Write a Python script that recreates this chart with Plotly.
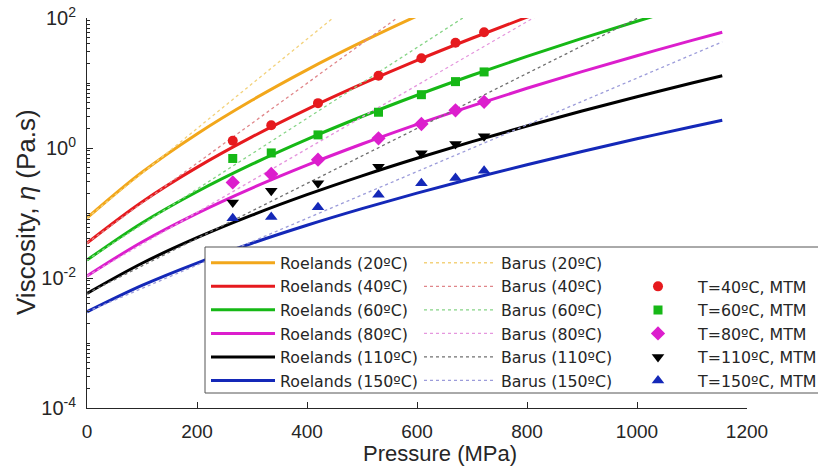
import plotly.graph_objects as go

# ---------------- data ----------------
pressure = [0, 100, 200, 300, 400, 500, 600, 700, 800, 900, 1000, 1100, 1155]

roelands_20 = [0.0838, 0.4231, 1.647, 5.433, 15.96, 42.85, 107.4, 254.1]
roelands_40 = [0.0345, 0.1479, 0.504, 1.483, 3.936, 9.656, 22.32, 48.83, 102.8, 208.3]
roelands_60 = [0.01892, 0.0704, 0.2127, 0.5634, 1.359, 3.051, 6.484, 13.15, 25.69, 48.56, 89.23, 160.0]
roelands_80 = [0.01074, 0.0358, 0.09893, 0.2424, 0.5461, 1.153, 2.315, 4.458, 8.288, 14.96, 26.31, 45.24, 60.42]
roelands_110 = [0.00578, 0.01686, 0.04169, 0.09277, 0.1915, 0.3735, 0.6965, 1.251, 2.180, 3.700, 6.134, 9.972, 12.93]
roelands_150 = [0.00302, 0.007686, 0.01698, 0.03426, 0.06479, 0.1167, 0.2021, 0.339, 0.5538, 0.884, 1.384, 2.128, 2.678]

barus_pressure = [0, 1155]
barus_20 = [0.0838, 7.40e6]
barus_40 = [0.0345, 4.30e5]
barus_60 = [0.01892, 3.72e4]
barus_80 = [0.01074, 4786]
barus_110 = [0.00578, 445.7]
barus_150 = [0.00302, 42.96]

mtm_pressure = [265, 335, 420, 530, 608, 670, 722]
mtm_40 = [1.29, 2.24, 4.90, 12.9, 24.0, 41.7, 60.3]
mtm_60 = [0.69, 0.84, 1.59, 3.55, 6.61, 10.5, 14.8]
mtm_80 = [0.295, 0.398, 0.661, 1.41, 2.34, 3.80, 5.13]
mtm_110 = [0.145, 0.219, 0.288, 0.513, 0.832, 1.148, 1.514]
mtm_150 = [0.0832, 0.0871, 0.123, 0.191, 0.288, 0.347, 0.447]

temps = ["20", "40", "60", "80", "110", "150"]
x_ticks = [0, 200, 400, 600, 800, 1000, 1200]
y_ticks = [1e-4, 1e-2, 1, 1e2]
y_ticktext = ["10<sup>-4</sup>", "10<sup>-2</sup>", "10<sup>0</sup>", "10<sup>2</sup>"]

# ---------------- styles ----------------
solid_colors = ["#F2A71B", "#E61A1E", "#16B816", "#DC1ECD", "#000000", "#1428B8"]
dash_colors = ["#F3D27C", "#E0868A", "#86D486", "#E597DE", "#707070", "#9C9CDA"]
FONT = "Liberation Sans, Arial, Helvetica, sans-serif"
LEG_FONT = "DejaVu Sans, Liberation Sans, Arial, sans-serif"
TXT = "#262626"

roelands = [roelands_20, roelands_40, roelands_60, roelands_80, roelands_110, roelands_150]
barus = [barus_20, barus_40, barus_60, barus_80, barus_110, barus_150]

fig = go.Figure()

for t, vals, col in zip(temps, roelands, solid_colors):
    fig.add_trace(go.Scatter(
        x=pressure[:len(vals)], y=vals, mode="lines",
        line=dict(color=col, width=3, shape="spline", smoothing=1.0),
        name=f"Roelands ({t}ºC)", legend="legend"))

for t, vals, col in zip(temps, barus, dash_colors):
    fig.add_trace(go.Scatter(
        x=barus_pressure, y=vals, mode="lines",
        line=dict(color=col, width=1.3, dash="3px,3px"),
        name=f"Barus ({t}ºC)", legend="legend2"))

mtm = [
    ("40", mtm_40, "circle", solid_colors[1], 10),
    ("60", mtm_60, "square", solid_colors[2], 9),
    ("80", mtm_80, "diamond", solid_colors[3], 11),
    ("110", mtm_110, "triangle-down", solid_colors[4], 11),
    ("150", mtm_150, "triangle-up", solid_colors[5], 11),
]
for t, vals, sym, col, sz in mtm:
    fig.add_trace(go.Scatter(
        x=mtm_pressure, y=vals, mode="markers",
        marker=dict(symbol=sym, color=col, size=sz, line=dict(width=0)),
        name=f"T={t}ºC, MTM", legend="legend3"))

# ---------------- layout ----------------
L, R, T, B = 87, 71, 18, 58
W, H = 818, 466
pw, ph = W - L - R, H - T - B


def px_x(p):
    return (p - L) / pw


def px_y(p):
    return (H - B - p) / ph


minor_vals = []
for d in range(-4, 2):
    for k in range(1, 10):
        v = k * 10.0 ** d
        if v not in y_ticks:
            minor_vals.append(v)

legend_common = dict(
    xanchor="left", yanchor="top", bgcolor="rgba(0,0,0,0)", borderwidth=0,
    font=dict(family=LEG_FONT, size=15.8, color=TXT), tracegroupgap=0,
)
row = 23.6
leg_top = 246

fig.update_layout(
    width=W, height=H,
    margin=dict(l=L, r=R, t=T, b=B, pad=0, autoexpand=False),
    paper_bgcolor="white", plot_bgcolor="white",
    font=dict(family=FONT, color=TXT),
    showlegend=True,
    legend=dict(x=px_x(206), y=px_y(leg_top), itemwidth=64, **legend_common),
    legend2=dict(x=px_x(419), y=px_y(leg_top), itemwidth=72, **legend_common),
    legend3=dict(x=px_x(618), y=px_y(leg_top + row), itemwidth=70, **legend_common),
    xaxis=dict(
        range=[0, 1200], tickvals=x_ticks, ticks="inside", ticklen=6,
        tickcolor=TXT, showline=True, linecolor=TXT, linewidth=1,
        showgrid=False, zeroline=False, tickfont=dict(size=19, color=TXT),
        ticklabelstandoff=6,
    ),
    yaxis=dict(
        type="log", range=[-4, 2], tickvals=y_ticks, ticktext=y_ticktext,
        ticks="inside", ticklen=6, tickcolor=TXT, showline=True, linecolor=TXT,
        linewidth=1, showgrid=False, zeroline=False,
        tickfont=dict(size=20, color=TXT), ticklabelstandoff=6,
        minor=dict(tickvals=minor_vals, ticks="inside", ticklen=3, tickcolor=TXT, showgrid=False),
    ),
    shapes=[dict(
        type="rect", xref="paper", yref="paper",
        x0=px_x(205), x1=px_x(830), y0=px_y(393), y1=px_y(247),
        line=dict(color="#555555", width=1), fillcolor="white", layer="above",
    )],
    annotations=[
        dict(text="Pressure (MPa)", xref="paper", yref="paper",
             x=px_x(440), y=px_y(453), xanchor="center", yanchor="middle",
             showarrow=False, font=dict(size=22, color=TXT, family=FONT)),
        dict(text="Viscosity, <i>η</i> (Pa.s)", xref="paper", yref="paper",
             x=px_x(26), y=px_y(212), xanchor="center", yanchor="middle",
             textangle=-90, showarrow=False, font=dict(size=26, color=TXT, family=FONT)),
    ],
)

fig.write_html("out.html")
